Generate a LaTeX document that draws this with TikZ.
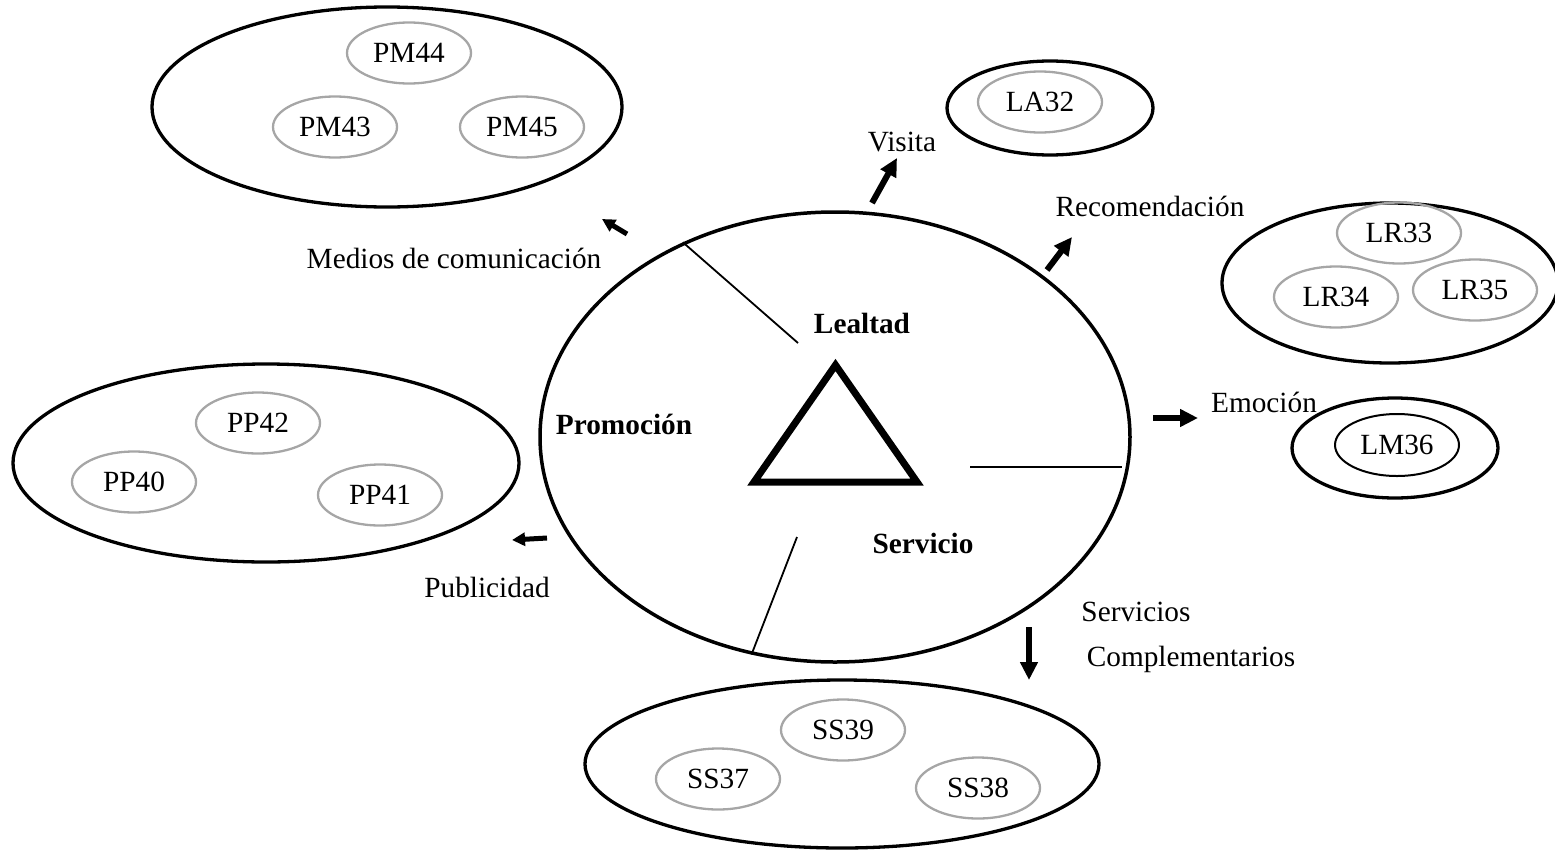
\documentclass[tikz,border=0pt]{standalone}
\usepackage{fontspec}
\setmainfont{Liberation Serif}
\usetikzlibrary{shapes.geometric,arrows.meta}
\definecolor{itemgray}{RGB}{166,166,166}
\begin{document}
\begin{tikzpicture}[x=1pt,y=-1pt,
  font=\fontsize{29.3}{35}\selectfont,
  group/.style={ellipse, draw, line width=3.3pt, inner sep=0pt},
  item/.style={ellipse, draw=itemgray, line width=2.3pt, inner sep=0pt,
               minimum width=124pt, minimum height=61pt},
  lmitem/.style={ellipse, draw, line width=2pt, inner sep=0pt,
               minimum width=124pt, minimum height=62pt},
  caption/.style={anchor=base, inner sep=0pt},
  boldcap/.style={anchor=base, inner sep=0pt, font=\fontsize{29.3}{35}\selectfont\bfseries},
  divider/.style={line width=1.8pt},
  bigarrow/.style={line width=6pt, -{Triangle[length=18pt,width=17pt]}},
  smallarrow/.style={line width=5pt, -{Triangle[length=13pt,width=13pt]}}]

\useasboundingbox (0,0) rectangle (1555,854);

% central ellipse with triangle and its three sectors
\node[group, line width=3.5pt, minimum width=590pt, minimum height=450pt] (core) at (835,437) {};
\draw[line width=7pt, line join=miter] (835.5,365) -- (754,482) -- (917,482) -- cycle;

\coordinate (dA) at (798,343);
\coordinate (dB) at (970,467);
\coordinate (dBe) at (1122,467);
\coordinate (dC) at (797,537);
\draw[divider] (core.128) -- (dA);
\draw[divider] (dB) -- (dBe);
\draw[divider] (dC) -- (core.-111);

\node[boldcap] (lealtad) at (862,333) {Lealtad};
\node[boldcap] (promo) at (624,434) {Promoción};
\node[boldcap] (servicio) at (923,553) {Servicio};

% Medios de comunicación
\node[group, minimum width=470pt, minimum height=200pt] (gPM) at (387,107) {};
\node[item] (pm44) at (409,53) {PM44};
\node[item] (pm43) at (335,127) {PM43};
\node[item] (pm45) at (522,127) {PM45};

% Visita
\node[group, minimum width=206pt, minimum height=94pt] (gLA) at (1050,108) {};
\node[item] (la32) at (1040,102) {LA32};

% Recomendación
\node[group, minimum width=336pt, minimum height=160pt] (gLR) at (1390,283) {};
\node[item] (lr33) at (1399,233) {LR33};
\node[item] (lr34) at (1336,297) {LR34};
\node[item] (lr35) at (1475,290) {LR35};

% Emoción
\node[group, minimum width=206pt, minimum height=100pt] (gLM) at (1395,448) {};
\node[lmitem] (lm36) at (1397,445) {LM36};

% Publicidad
\node[group, minimum width=506pt, minimum height=198pt] (gPP) at (266,463) {};
\node[item] (pp42) at (258,423) {PP42};
\node[item] (pp40) at (134,482) {PP40};
\node[item] (pp41) at (380,495) {PP41};

% Servicios complementarios
\node[group, minimum width=514pt, minimum height=168pt] (gSS) at (842,764) {};
\node[item] (ss39) at (843,730) {SS39};
\node[item] (ss37) at (718,779) {SS37};
\node[item] (ss38) at (978,788) {SS38};

% captions
\node[caption] (tMedios) at (454,268) {Medios de comunicación};
\node[caption] (tVisita) at (902,151) {Visita};
\node[caption] (tRecom) at (1150,216) {Recomendación};
\node[caption] (tEmo) at (1264,412) {Emoción};
\node[caption] (tServ) at (1136,621) {Servicios};
\node[caption] (tComp) at (1191,666) {Complementarios};
\node[caption] (tPub) at (487,597) {Publicidad};

% arrows pointing to each group
\coordinate (aMs) at (627,234);  \coordinate (aMe) at (602,219);
\coordinate (aVs) at (872,203);  \coordinate (aVe) at (897,158);
\coordinate (aRs) at (1047,270); \coordinate (aRe) at (1072,237);
\coordinate (aEs) at (1153,418); \coordinate (aEe) at (1198,418);
\coordinate (aSs) at (1029,627); \coordinate (aSe) at (1029,680);
\coordinate (aPs) at (547,538);  \coordinate (aPe) at (512,540);

\draw[smallarrow] (aMs) -- (aMe);
\draw[bigarrow] (aVs) -- (aVe);
\draw[bigarrow] (aRs) -- (aRe);
\draw[bigarrow] (aEs) -- (aEe);
\draw[bigarrow] (aSs) -- (aSe);
\draw[smallarrow] (aPs) -- (aPe);
\end{tikzpicture}
\end{document}
